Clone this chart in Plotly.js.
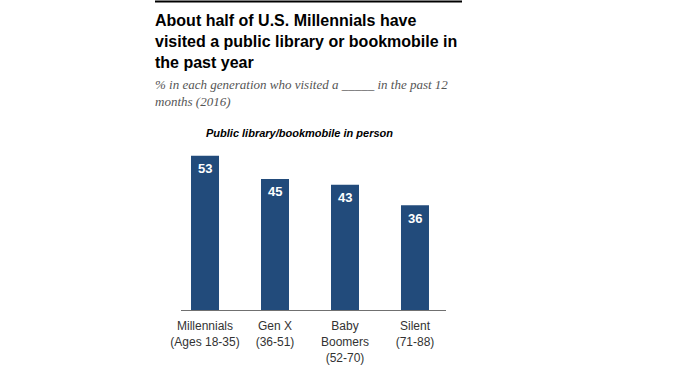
<!DOCTYPE html>
<html><head><meta charset="utf-8">
<script src="https://cdn.plot.ly/plotly-3.0.1.min.js"></script>
<style>html,body{margin:0;padding:0;background:#fff}#chart{width:691px;height:369px}</style>
</head><body><div id="chart"></div>
<script>
const categories = ["Millennials", "Gen X", "Baby Boomers", "Silent"];
const tickLabels = ["Millennials<br>(Ages 18-35)", "Gen X<br>(36-51)", "Baby<br>Boomers<br>(52-70)", "Silent<br>(71-88)"];
const visited = [53, 45, 43, 36];

const barColor = "#224b7b";
const trace = {
  type: "bar", x: categories, y: visited, marker: {color: barColor},
  hoverinfo: "x+y", showlegend: false
};
const valueAnnotations = categories.map((c, i) => ({
  x: c, y: visited[i], xref: "x", yref: "y", text: String(visited[i]),
  showarrow: false, yshift: -13, font: {family: "Liberation Sans, Arial, sans-serif", size: 13, color: "#ffffff", weight: "bold"}
}));

// plot area: x 181..446, y 135..310
const px = x => (x - 181) / 265;
const py = y => (310 - y) / 175;

const layout = {
  width: 691, height: 369,
  margin: {l: 181, r: 245, t: 135, b: 59},
  paper_bgcolor: "#ffffff", plot_bgcolor: "#ffffff",
  bargap: 0.6,
  xaxis: {
    type: "category", range: [-0.343, 3.443], tickvals: categories, ticktext: tickLabels,
    showline: true, linecolor: "#707070", linewidth: 1, ticks: "", showgrid: false, zeroline: false,
    ticklabelstandoff: 5,
    tickfont: {family: "Liberation Sans, Arial, sans-serif", size: 12, color: "#333"}
  },
  yaxis: {range: [0, 60.1], visible: false, showgrid: false, zeroline: false},
  shapes: [
    {type: "line", xref: "paper", yref: "paper", x0: px(155), x1: px(462), y0: py(1.5), y1: py(1.5), line: {color: "#000", width: 2}}
  ],
  annotations: valueAnnotations.concat([
    {xref: "paper", yref: "paper", x: px(153), y: py(10), xanchor: "left", yanchor: "top", align: "left", showarrow: false,
     text: "<b>About half of U.S. Millennials have<br>visited a public library or bookmobile in<br>the past year</b>",
     font: {family: "Liberation Sans, Arial, sans-serif", size: 16, color: "#000"}},
    {xref: "paper", yref: "paper", x: px(153), y: py(75), xanchor: "left", yanchor: "top", align: "left", showarrow: false,
     text: "<i>% in each generation who visited a _____ in the past 12<br>months (2016)</i>",
     font: {family: "Liberation Serif, Georgia, serif", size: 13, color: "#555"}},
    {xref: "paper", yref: "paper", x: px(299), y: py(133), xanchor: "center", yanchor: "middle", showarrow: false,
     text: "<b><i>Public library/bookmobile in person</i></b>",
     font: {family: "Liberation Sans, Arial, sans-serif", size: 11, color: "#000"}}
  ])
};
Plotly.newPlot("chart", [trace], layout, {displayModeBar: false, staticPlot: true});
</script></body></html>
